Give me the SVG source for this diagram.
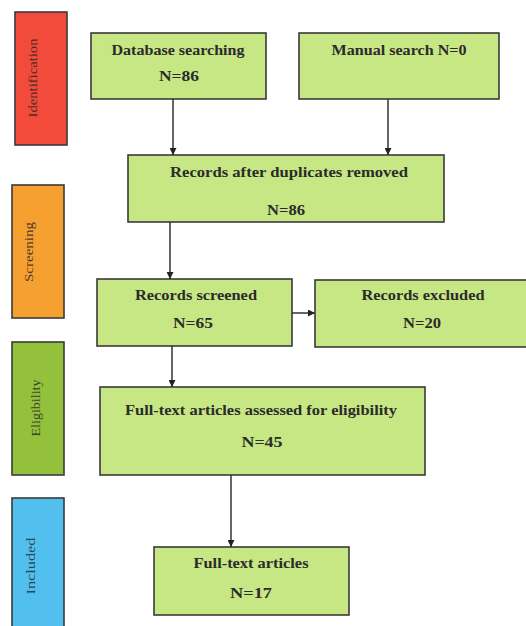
<svg xmlns="http://www.w3.org/2000/svg" width="526" height="626" viewBox="0 0 526 626">
<defs>
<marker id="ah" viewBox="0 0 10 10" refX="10" refY="5" markerWidth="7" markerHeight="7" markerUnits="userSpaceOnUse" orient="auto">
<path d="M0,0 L10,5 L0,10 z" fill="#222"/>
</marker>
<style>
.box{fill:#c6e783;stroke:#3a3a3a;stroke-width:1.6}
.t{font-family:"Liberation Serif","Times New Roman",serif;font-weight:bold;font-size:15px;fill:#2b2b2b;text-anchor:middle}
.side{stroke:#3a3a3a;stroke-width:1.6}
.st{font-family:"Liberation Serif","Times New Roman",serif;font-size:13px;fill:#222;fill-opacity:0.8;text-anchor:middle}
.c{stroke:#333;stroke-width:1.5;fill:none;marker-end:url(#ah)}
</style>
</defs>
<rect width="526" height="626" fill="#ffffff"/>
<g id="phase-identification">
<rect class="side" x="15" y="12" width="52" height="133" fill="#f24b3b"/>
<text class="st" transform="translate(37,78) rotate(-90)" textLength="79" lengthAdjust="spacingAndGlyphs">Identification</text>
</g>
<g id="phase-screening">
<rect class="side" x="12" y="185" width="52" height="133" fill="#f6a032"/>
<text class="st" transform="translate(33,252) rotate(-90)" textLength="60" lengthAdjust="spacingAndGlyphs">Screening</text>
</g>
<g id="phase-eligibility">
<rect class="side" x="12" y="342" width="52" height="133" fill="#93c13c"/>
<text class="st" transform="translate(40,408) rotate(-90)" textLength="57" lengthAdjust="spacingAndGlyphs">Eligibility</text>
</g>
<g id="phase-included">
<rect class="side" x="12" y="498" width="52" height="140" fill="#52c0ee"/>
<text class="st" transform="translate(35,566) rotate(-90)" textLength="57" lengthAdjust="spacingAndGlyphs">Included</text>
</g>
<g id="database">
<rect class="box" x="91" y="33" width="175" height="66"/>
<text class="t" x="178" y="55" textLength="133" lengthAdjust="spacingAndGlyphs">Database searching</text>
<text class="t" x="179" y="81" textLength="40" lengthAdjust="spacingAndGlyphs">N=86</text>
</g>
<g id="manual">
<rect class="box" x="299" y="33" width="200" height="66"/>
<text class="t" x="399" y="55" textLength="135" lengthAdjust="spacingAndGlyphs">Manual search N=0</text>
</g>
<g id="after-duplicates">
<rect class="box" x="128" y="155" width="316" height="67"/>
<text class="t" x="289" y="177" textLength="238" lengthAdjust="spacingAndGlyphs">Records after duplicates removed</text>
<text class="t" x="286" y="215" textLength="38" lengthAdjust="spacingAndGlyphs">N=86</text>
</g>
<g id="screened">
<rect class="box" x="97" y="279" width="195" height="67"/>
<text class="t" x="196" y="300" textLength="122" lengthAdjust="spacingAndGlyphs">Records screened</text>
<text class="t" x="193" y="328" textLength="40" lengthAdjust="spacingAndGlyphs">N=65</text>
</g>
<g id="excluded">
<rect class="box" x="315" y="280" width="213" height="67"/>
<text class="t" x="423" y="300" textLength="123" lengthAdjust="spacingAndGlyphs">Records excluded</text>
<text class="t" x="422" y="328" textLength="38" lengthAdjust="spacingAndGlyphs">N=20</text>
</g>
<g id="assessed">
<rect class="box" x="100" y="387" width="325" height="88"/>
<text class="t" x="261" y="415" textLength="272" lengthAdjust="spacingAndGlyphs">Full-text articles assessed for eligibility</text>
<text class="t" x="262" y="447" textLength="41" lengthAdjust="spacingAndGlyphs">N=45</text>
</g>
<g id="included">
<rect class="box" x="154" y="547" width="195" height="68"/>
<text class="t" x="251" y="568" textLength="115" lengthAdjust="spacingAndGlyphs">Full-text articles</text>
<text class="t" x="251" y="598" textLength="42" lengthAdjust="spacingAndGlyphs">N=17</text>
</g>
<g id="connectors">
<line class="c" x1="173" y1="99" x2="173" y2="155"/>
<line class="c" x1="388" y1="99" x2="388" y2="155"/>
<line class="c" x1="170" y1="222" x2="170" y2="279"/>
<line class="c" x1="292" y1="313" x2="315" y2="313"/>
<line class="c" x1="172" y1="346" x2="172" y2="387"/>
<line class="c" x1="231" y1="475" x2="231" y2="547"/>
</g>
</svg>
